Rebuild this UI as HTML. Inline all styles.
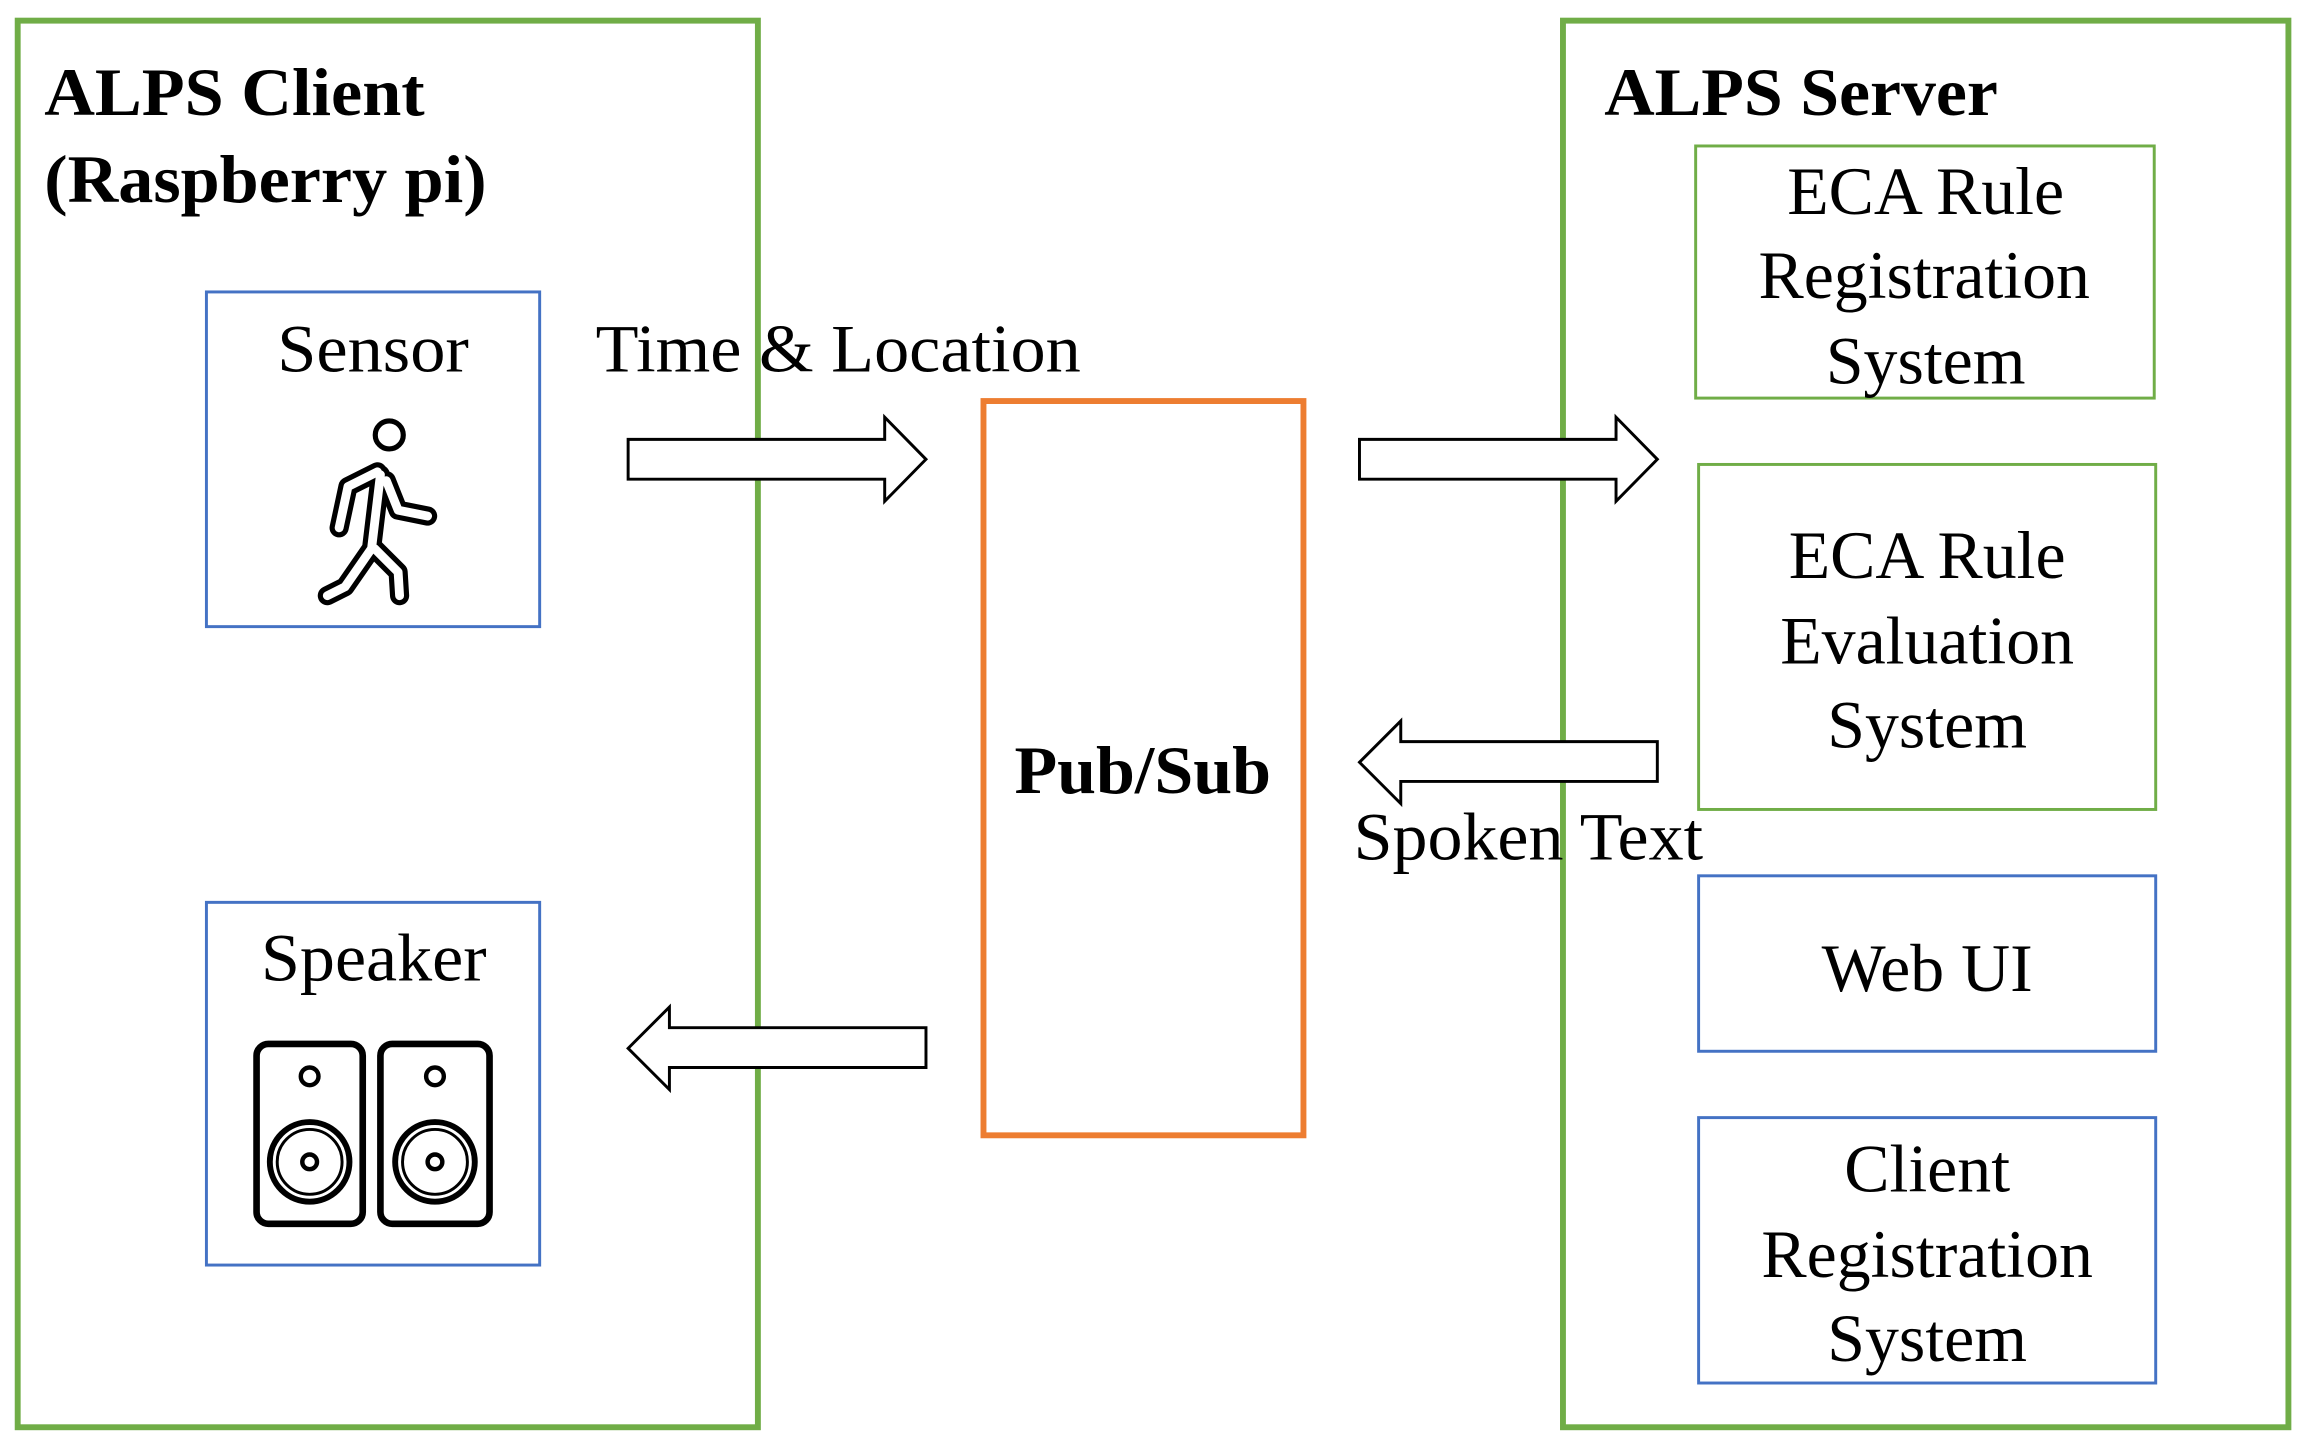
<!DOCTYPE html>
<html><head><meta charset="utf-8"><style>
html,body{margin:0;padding:0;background:#fff;}
svg{display:block;}
text{font-family:"Liberation Serif",serif;fill:#000;}
.b{font-weight:bold;}
</style></head><body>
<svg width="2312" height="1456" viewBox="0 0 1568 987.5" preserveAspectRatio="none" xmlns="http://www.w3.org/2000/svg">
<rect x="0" y="0" width="1568" height="987.5" fill="#fff"/>
<rect x="12" y="14" width="502" height="954" fill="none" stroke="#70ad47" stroke-width="4"/>
<rect x="1060" y="14" width="492" height="954" fill="none" stroke="#70ad47" stroke-width="4"/>
<text class="b" x="30" y="78" font-size="46" textLength="258" lengthAdjust="spacingAndGlyphs">ALPS Client</text>
<text class="b" x="30" y="137" font-size="46" textLength="300" lengthAdjust="spacingAndGlyphs">(Raspberry pi)</text>
<text class="b" x="1088" y="78" font-size="46" textLength="267" lengthAdjust="spacingAndGlyphs">ALPS Server</text>

<rect x="140" y="198" width="226" height="227" fill="none" stroke="#4472c4" stroke-width="2"/>
<text x="188" y="252" font-size="46" textLength="130" lengthAdjust="spacingAndGlyphs">Sensor</text>
<g fill="none" stroke-linecap="round" stroke-linejoin="round">
<g stroke="#000" stroke-width="13">
<path d="M258 322 L252 372 L234 398 L222 404"/>
<path d="M254 372 L270 388 L271 404"/>
<path d="M256 320 L236 330 L230 358"/>
<path d="M262 326 L270 346 L290 350"/>
</g>
<g stroke="#fff" stroke-width="6">
<path d="M258 322 L252 372 L234 398 L222 404"/>
<path d="M254 372 L270 388 L271 404"/>
<path d="M256 320 L236 330 L230 358"/>
<path d="M262 326 L270 346 L290 350"/>
</g>
<circle cx="264" cy="295" r="9.5" stroke="#000" stroke-width="3.5"/>
</g>

<rect x="140" y="612" width="226" height="246" fill="none" stroke="#4472c4" stroke-width="2"/>
<text x="177" y="665" font-size="46" textLength="153" lengthAdjust="spacingAndGlyphs">Speaker</text>
<g fill="none" stroke="#000">
<rect x="174" y="708" width="72" height="122" rx="8" stroke-width="4.5"/>
<rect x="258" y="708" width="74" height="122" rx="8" stroke-width="4.5"/>
<circle cx="210" cy="730" r="6" stroke-width="3"/>
<circle cx="295" cy="730" r="6" stroke-width="3"/>
<circle cx="210" cy="788" r="27" stroke-width="4"/>
<circle cx="295" cy="788" r="27" stroke-width="4"/>
<circle cx="210" cy="788" r="22" stroke-width="2"/>
<circle cx="295" cy="788" r="22" stroke-width="2"/>
<circle cx="210" cy="788" r="5" stroke-width="3"/>
<circle cx="295" cy="788" r="5" stroke-width="3"/>
</g>

<rect x="667" y="272" width="217" height="498" fill="none" stroke="#ed7d31" stroke-width="4"/>
<text class="b" x="688" y="538" font-size="46" textLength="174" lengthAdjust="spacingAndGlyphs">Pub/Sub</text>

<g fill="#fff" stroke="#000" stroke-width="2">
<path d="M426 298 L600 298 L600 283 L628 311.5 L600 340 L600 325 L426 325 Z"/>
<path d="M922 298 L1096 298 L1096 283 L1124 311.5 L1096 340 L1096 325 L922 325 Z"/>
<path d="M1124 503 L950 503 L950 489 L922 517 L950 545 L950 530 L1124 530 Z"/>
<path d="M628 697 L454 697 L454 683 L426 711 L454 739 L454 724 L628 724 Z"/>
</g>
<text x="404" y="252" font-size="46" textLength="329" lengthAdjust="spacingAndGlyphs">Time &amp; Location</text>
<text x="918" y="583" font-size="46" textLength="237" lengthAdjust="spacingAndGlyphs">Spoken Text</text>

<rect x="1150" y="99" width="311" height="171" fill="none" stroke="#70ad47" stroke-width="2"/>
<text x="1306" y="145" font-size="46" text-anchor="middle">ECA Rule</text>
<text x="1305" y="202" font-size="46" text-anchor="middle">Registration</text>
<text x="1306" y="260" font-size="46" text-anchor="middle">System</text>

<rect x="1152" y="315" width="310" height="234" fill="none" stroke="#70ad47" stroke-width="2"/>
<text x="1307" y="392" font-size="46" text-anchor="middle">ECA Rule</text>
<text x="1307" y="450" font-size="46" text-anchor="middle">Evaluation</text>
<text x="1307" y="507" font-size="46" text-anchor="middle">System</text>

<rect x="1152" y="594" width="310" height="119" fill="none" stroke="#4472c4" stroke-width="2"/>
<text x="1307" y="672" font-size="46" text-anchor="middle">Web UI</text>

<rect x="1152" y="758" width="310" height="180" fill="none" stroke="#4472c4" stroke-width="2"/>
<text x="1307" y="808" font-size="46" text-anchor="middle">Client</text>
<text x="1307" y="866" font-size="46" text-anchor="middle">Registration</text>
<text x="1307" y="923" font-size="46" text-anchor="middle">System</text>
</svg>
</body></html>
